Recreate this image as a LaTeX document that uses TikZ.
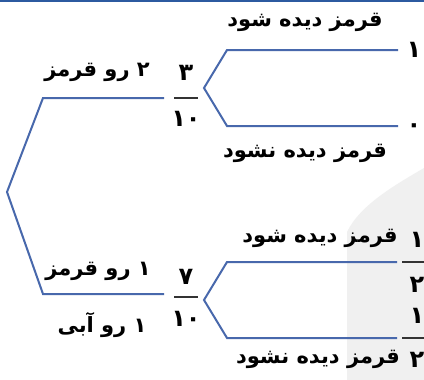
\documentclass[tikz,border=0pt]{standalone}
\usepackage{fontspec}
\newfontfamily\arabicfont[Script=Arabic]{DejaVu Sans}
\TeXXeTstate=1
\definecolor{treeblue}{RGB}{72,104,172}
\definecolor{topblue}{RGB}{44,90,160}
\definecolor{bggray}{RGB}{240,240,240}
\begin{document}
\begin{tikzpicture}[x=1pt,y=-1pt,
  branch/.style={draw=treeblue,line width=2pt,line join=miter},
  lbl/.style={font=\arabicfont\bfseries\fontsize{21}{24}\selectfont,inner sep=0pt},
  num/.style={font=\arabicfont\bfseries\fontsize{24}{26}\selectfont,inner sep=0pt},
  bar/.style={draw=black!80,line width=1.2pt}]
\useasboundingbox (0,0) rectangle (424,380);
\fill[white] (0,0) rectangle (424,380);
\fill[bggray] (424,168) .. controls (395,185) and (360,205) .. (347,232) -- (347,380) -- (424,380) -- cycle;
\draw[topblue,line width=2pt] (0,1) -- (424,1);
% coordinates
\coordinate (root) at (7,192);
\coordinate (c1) at (43,98);  \coordinate (e1) at (164,98);
\coordinate (c2) at (43,294); \coordinate (e2) at (164,294);
\coordinate (v1) at (204,88);
\coordinate (u1) at (227,50); \coordinate (u1e) at (398,50);
\coordinate (d1) at (227,126); \coordinate (d1e) at (398,126);
\coordinate (v2) at (204,300);
\coordinate (u2) at (227,262); \coordinate (u2e) at (397,262);
\coordinate (d2) at (227,338); \coordinate (d2e) at (397,338);
\draw[branch] (e1) -- (c1) -- (root) -- (c2) -- (e2);
\draw[branch] (u1e) -- (u1) -- (v1) -- (d1) -- (d1e);
\draw[branch] (u2e) -- (u2) -- (v2) -- (d2) -- (d2e);
% fractions
\node[num] (n1) at (186,73) {۳};
\node[num] (m1) at (186,119) {۱۰};
\coordinate (b1l) at (174,98); \coordinate (b1r) at (198,98);
\draw[bar] (b1l) -- (b1r);
\node[num] (n2) at (186,277) {۷};
\node[num] (m2) at (186,319) {۱۰};
\coordinate (b2l) at (174,297); \coordinate (b2r) at (198,297);
\draw[bar] (b2l) -- (b2r);
\node[num] (p1) at (414,50) {۱};
\node[num] (p0) at (414,128) {۰};
\node[num] (h1) at (417,240) {۱};
\node[num] (h2) at (417,285) {۲};
\coordinate (b3l) at (402,262); \coordinate (b3r) at (424,262);
\draw[bar] (b3l) -- (b3r);
\node[num] (h3) at (417,316) {۱};
\node[num] (h4) at (417,360) {۲};
\coordinate (b4l) at (402,338); \coordinate (b4r) at (424,338);
\draw[bar] (b4l) -- (b4r);
% labels
\node[lbl] (t1) at (97,72) {\beginR ۲ رو قرمز\endR};
\node[lbl] (t2) at (98,271) {\beginR ۱ رو قرمز\endR};
\node[lbl] (t3) at (102,325) {\beginR ۱ رو آبی\endR};
\node[lbl] (s1) at (305,22) {\beginR قرمز دیده شود\endR};
\node[lbl] (s2) at (305,153) {\beginR قرمز دیده نشود\endR};
\node[lbl] (s3) at (320,238) {\beginR قرمز دیده شود\endR};
\node[lbl] (s4) at (318,359) {\beginR قرمز دیده نشود\endR};
\end{tikzpicture}
\end{document}
